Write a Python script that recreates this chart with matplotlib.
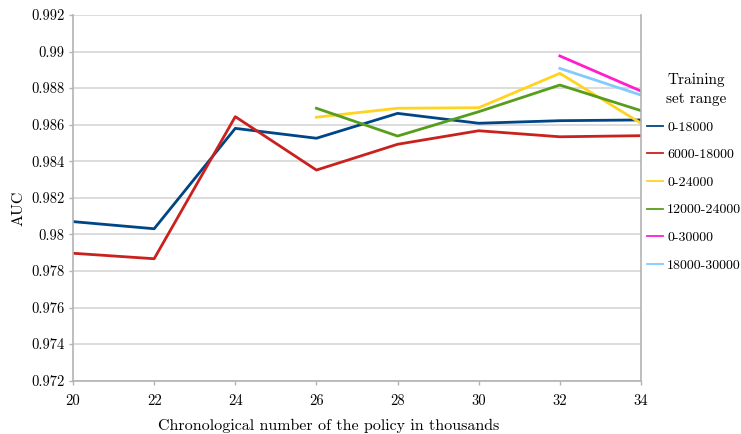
import matplotlib
matplotlib.use("Agg")
import matplotlib.pyplot as plt

plt.rcParams["font.family"] = "serif"
plt.rcParams["font.serif"] = ["cmr10", "DejaVu Serif"]
plt.rcParams["axes.formatter.use_mathtext"] = True
plt.rcParams["mathtext.fontset"] = "cm"

x_all = [20, 22, 24, 26, 28, 30, 32, 34]

auc_0_18000 = [0.98070, 0.98031, 0.98580, 0.98526, 0.98662, 0.98608, 0.98622, 0.98626]
auc_6000_18000 = [0.97897, 0.97867, 0.98644, 0.98352, 0.98493, 0.98567, 0.98534, 0.98540]
x_24 = [26, 28, 30, 32, 34]
auc_0_24000 = [0.98641, 0.98690, 0.98693, 0.98881, 0.98608]
auc_12000_24000 = [0.98690, 0.98538, 0.98671, 0.98817, 0.98677]
x_30 = [32, 34]
auc_0_30000 = [0.98976, 0.98784]
auc_18000_30000 = [0.98908, 0.98762]

series = [
    ("0-18000", x_all, auc_0_18000, "#004586"),
    ("6000-18000", x_all, auc_6000_18000, "#c9211e"),
    ("0-24000", x_24, auc_0_24000, "#ffd320"),
    ("12000-24000", x_24, auc_12000_24000, "#579d1c"),
    ("0-30000", x_30, auc_0_30000, "#ff1ecf"),
    ("18000-30000", x_30, auc_18000_30000, "#83caff"),
]

y_ticks = [0.972, 0.974, 0.976, 0.978, 0.98, 0.982, 0.984, 0.986, 0.988, 0.99, 0.992]
y_tick_labels = ["0.972", "0.974", "0.976", "0.978", "0.98", "0.982", "0.984",
                 "0.986", "0.988", "0.99", "0.992"]
x_ticks = [20, 22, 24, 26, 28, 30, 32, 34]

W, H = 741, 434
x0, x1, y_top, y_bot = 73, 641, 15, 380.7

fig = plt.figure(figsize=(W / 100, H / 100), dpi=100)
ax = fig.add_axes([x0 / W, 1 - y_bot / H, (x1 - x0) / W, (y_bot - y_top) / H])

for label, xs, ys, color in series:
    ax.plot(xs, ys, color=color, lw=2.0, label=label)

ax.set_xlim(20, 34)
ax.set_ylim(0.972, 0.992)
ax.set_yticks(y_ticks)
ax.set_yticklabels(y_tick_labels)
ax.set_xticks(x_ticks)
ax.set_xticklabels([str(v) for v in x_ticks])
ax.tick_params(axis="both", labelsize=10.5, length=3, width=1, color="#b3b3b3",
               direction="out")
ax.tick_params(axis="y", pad=3)
ax.tick_params(axis="x", pad=7)
ax.grid(axis="y", color="#d6d6d6", lw=1.2)
ax.set_axisbelow(True)
for side in ["left", "bottom", "right"]:
    ax.spines[side].set_color("#b3b3b3")
    ax.spines[side].set_linewidth(1.2)
ax.spines["top"].set_visible(False)

ax.set_xlabel("Chronological number of the policy in thousands", fontsize=11.5)
ax.xaxis.set_label_coords((328.5 - x0) / (x1 - x0), (y_bot - 426) / (y_bot - y_top))
ax.xaxis.label.set_va("center")
ax.set_ylabel("AUC", fontsize=11.5)
ax.yaxis.set_label_coords((19 - x0) / (x1 - x0), (y_bot - 208) / (y_bot - y_top))
ax.yaxis.label.set_va("center")

leg = ax.legend(loc="upper left",
                bbox_to_anchor=((647 - x0) / (x1 - x0), (y_bot - 121) / (y_bot - y_top)),
                frameon=False, fontsize=10,
                handlelength=1.15, handletextpad=0.3, labelspacing=1.07,
                borderaxespad=0, borderpad=0)
for line in leg.get_lines():
    line.set_linewidth(1.3)

# legend heading, centred above the entries
fig.text(696.5 / W, 1 - 89.5 / H, "Training\nset range", fontsize=11,
         ha="center", va="center", linespacing=1.45)

fig.savefig("out.png", dpi=100)
